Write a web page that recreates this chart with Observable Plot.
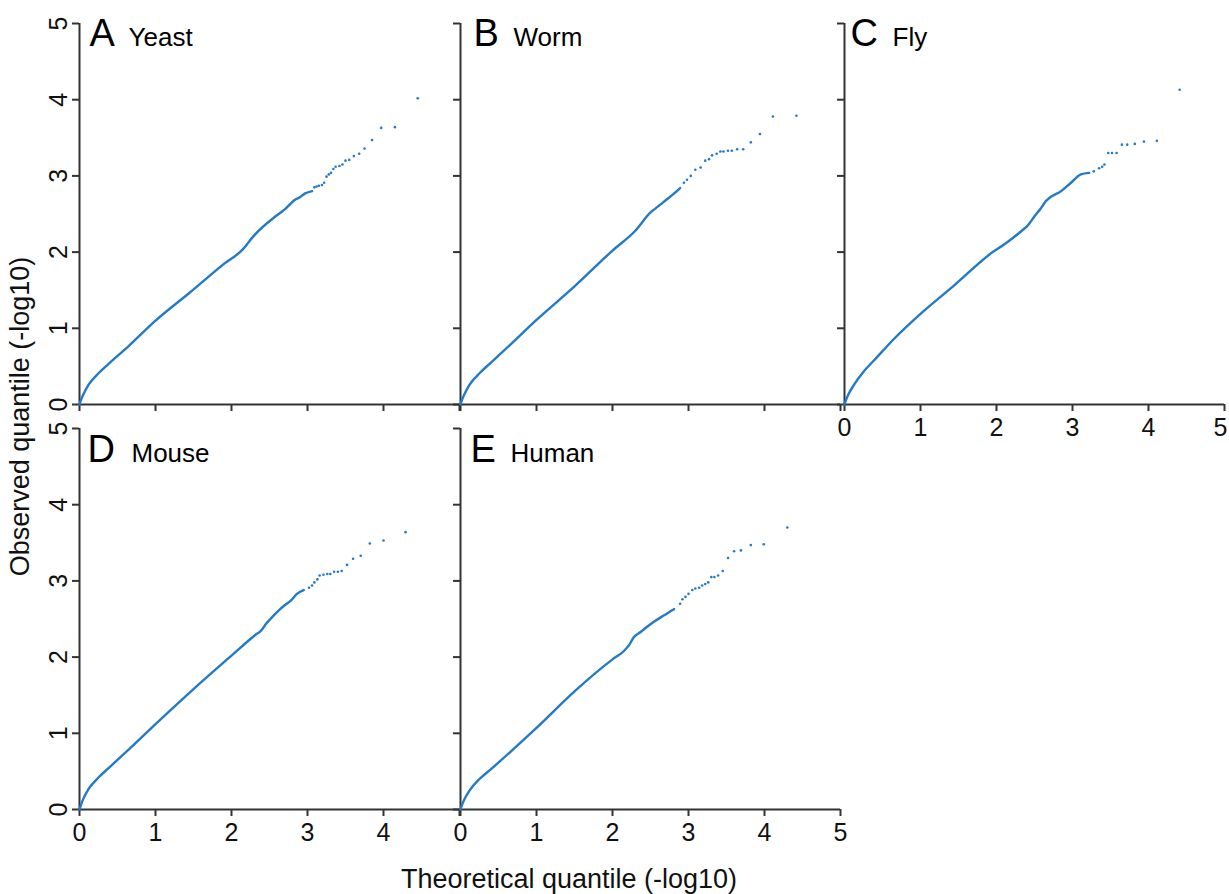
<!DOCTYPE html>
<html><head><meta charset="utf-8">
<script src="https://cdn.jsdelivr.net/npm/d3@7"></script>
<script src="https://cdn.jsdelivr.net/npm/@observablehq/plot@0.6"></script>
<style>
body{margin:0;background:#fff;font-family:"Liberation Sans",Arial,sans-serif;}
#wrap{position:relative;width:1229px;height:894px;overflow:hidden;background:#fff;}
.panel{position:absolute;}
.ttl{position:absolute;font-size:27px;line-height:27px;color:#111;white-space:nowrap;text-align:center;}
</style></head><body><div id="wrap"></div>
<script>
// ---- data ----
const xTicks = [0, 1, 2, 3, 4, 5];
const yTicks = [0, 1, 2, 3, 4, 5];
const panelLetters = ["A", "B", "C", "D", "E"];
const panelNames = ["Yeast", "Worm", "Fly", "Mouse", "Human"];

const yeastLine = [[0,0],[0.02,0.06],[0.05,0.13],[0.12,0.26],[0.25,0.41],[0.39,0.54],[0.65,0.77],[1.0,1.10],[1.44,1.46],[1.88,1.83],[2.18,2.07],[2.24,2.15],[2.29,2.21],[2.58,2.47],[2.66,2.53],[2.70,2.56],[2.84,2.69],[2.90,2.72],[2.97,2.77],[3.06,2.80]];
const yeastTail = [[3.09,2.85],[3.12,2.86],[3.15,2.87],[3.19,2.88],[3.22,2.91],[3.25,2.99],[3.28,3.02],[3.31,3.04],[3.34,3.09],[3.37,3.12],[3.42,3.13],[3.46,3.15],[3.50,3.20],[3.55,3.21],[3.61,3.26],[3.68,3.29],[3.75,3.36],[3.85,3.47],[3.97,3.63],[4.15,3.64],[4.45,4.02]];

const wormLine = [[0,0],[0.02,0.06],[0.05,0.13],[0.12,0.26],[0.25,0.41],[0.39,0.54],[0.65,0.78],[1.0,1.11],[1.5,1.55],[2.0,2.02],[2.3,2.28],[2.5,2.52],[2.6,2.60],[2.7,2.68],[2.8,2.76],[2.89,2.84]];
const wormTail = [[2.94,2.91],[2.98,2.95],[3.03,3.0],[3.09,3.08],[3.16,3.11],[3.22,3.2],[3.27,3.22],[3.31,3.27],[3.37,3.29],[3.42,3.32],[3.46,3.32],[3.52,3.33],[3.57,3.33],[3.64,3.35],[3.72,3.35],[3.82,3.44],[3.94,3.55],[4.11,3.78],[4.42,3.79]];

const flyLine = [[0,0],[0.02,0.06],[0.05,0.13],[0.126,0.26],[0.25,0.43],[0.39,0.58],[0.65,0.86],[1.0,1.19],[1.44,1.56],[1.95,2.0],[2.1,2.1],[2.32,2.27],[2.42,2.36],[2.45,2.40],[2.5,2.47],[2.58,2.57],[2.65,2.67],[2.85,2.80],[2.98,2.91],[3.11,3.02],[3.22,3.04]];
const flyTail = [[3.28,3.06],[3.35,3.10],[3.39,3.12],[3.42,3.15],[3.47,3.30],[3.52,3.30],[3.58,3.30],[3.65,3.41],[3.72,3.41],[3.82,3.42],[3.94,3.45],[4.11,3.46],[4.41,4.13]];

const mouseLine = [[0,0],[0.02,0.06],[0.05,0.14],[0.12,0.27],[0.25,0.42],[0.39,0.55],[0.65,0.79],[1.0,1.12],[1.5,1.58],[2.0,2.02],[2.3,2.28],[2.4,2.36],[2.45,2.43],[2.55,2.54],[2.64,2.63],[2.70,2.68],[2.78,2.74],[2.86,2.83],[2.95,2.88]];
const mouseTail = [[3.02,2.91],[3.06,2.94],[3.09,2.98],[3.13,3.02],[3.16,3.07],[3.21,3.08],[3.26,3.09],[3.30,3.09],[3.35,3.12],[3.40,3.12],[3.45,3.13],[3.52,3.21],[3.60,3.29],[3.70,3.33],[3.82,3.49],[4.0,3.53],[4.29,3.64]];

const humanLine = [[0,0],[0.02,0.06],[0.05,0.13],[0.12,0.25],[0.25,0.40],[0.39,0.52],[0.65,0.75],[1.0,1.07],[1.5,1.55],[2.0,1.97],[2.15,2.08],[2.22,2.16],[2.28,2.26],[2.37,2.33],[2.54,2.46],[2.68,2.55],[2.81,2.63]];
const humanTail = [[2.89,2.70],[2.92,2.76],[2.96,2.79],[3.0,2.83],[3.05,2.88],[3.09,2.90],[3.14,2.91],[3.18,2.94],[3.22,2.96],[3.26,2.98],[3.30,3.05],[3.34,3.05],[3.39,3.07],[3.45,3.13],[3.52,3.30],[3.60,3.39],[3.69,3.40],[3.82,3.47],[3.99,3.48],[4.30,3.70]];

const xTitle = "Theoretical quantile (-log10)";
const yTitle = "Observed quantile (-log10)";

// ---- layout ----
const BLUE = "#237ac6", AX = "#333333";
const FONT = "'Liberation Sans', Arial, sans-serif";
const mL = 50, mT = 30, mR = 12, mB = 50, W = 380, H = 381;

// xLab: which tick values get a label in each panel
const panels = [
  {line: yeastLine, tail: yeastTail, left: 79,    top: 22.5, xLab: [],              yLab: true,  dy: 22.5, lx: 10, nx: 49},
  {line: wormLine,  tail: wormTail,  left: 460,   top: 22.5, xLab: [],              yLab: false, dy: 22.5, lx: 13, nx: 53},
  {line: flyLine,   tail: flyTail,   left: 843.5, top: 22.5, xLab: [0,1,2,3,4],     yLab: false, dy: 22.5, lx: 6,  nx: 48, lastLab: true},
  {line: mouseLine, tail: mouseTail, left: 79,    top: 428,  xLab: [0,1,2,3,4],     yLab: true,  dy: 33,   lx: 8,  nx: 52},
  {line: humanLine, tail: humanTail, left: 460,   top: 428,  xLab: [0,1,2,3,4,5],   yLab: false, dy: 33,   lx: 10, nx: 50}
];

const wrap = document.getElementById("wrap");

panels.forEach((p, i) => {
  const marks = [
    Plot.axisX({ticks: xTicks, tickSize: 7, tickPadding: 7, strokeWidth: 2, stroke: AX, fill: "#111",
      fontSize: 25, label: null, tickFormat: d => p.xLab.includes(d) ? String(d) : ""}),
    Plot.axisY({ticks: yTicks, tickSize: 7, strokeWidth: 2, stroke: AX, label: null, tickFormat: () => ""}),
    Plot.ruleY([0], {stroke: AX, strokeWidth: 2}),
    Plot.ruleX([0], {stroke: AX, strokeWidth: 2}),
    Plot.line(p.line, {x: d => d[0], y: d => d[1], stroke: BLUE, strokeWidth: 2.4, curve: "monotone-x"}),
    Plot.dot(p.tail, {x: d => d[0], y: d => d[1], r: 1.3, fill: BLUE}),
    Plot.text([panelLetters[i]], {frameAnchor: "top-left", text: d => d, dx: p.lx, dy: p.dy,
      lineAnchor: "bottom", textAnchor: "start", fontSize: 38, fill: "#000"}),
    Plot.text([panelNames[i]], {frameAnchor: "top-left", text: d => d, dx: p.nx, dy: p.dy,
      lineAnchor: "bottom", textAnchor: "start", fontSize: 26, fill: "#000"})
  ];
  if (p.lastLab) {
    marks.push(Plot.text([xTicks[xTicks.length - 1]], {x: d => d, y: 0, text: d => String(d),
      lineAnchor: "top", dy: 14, dx: -4, fontSize: 25, fill: "#111"}));
  }
  if (p.yLab) {
    marks.push(Plot.text(yTicks, {x: 0, y: d => d, text: d => String(d), rotate: -90,
      textAnchor: "middle", dx: -21, fontSize: 25, fill: "#111"}));
  }
  const chart = Plot.plot({
    width: mL + W + mR, height: mT + H + mB,
    marginLeft: mL, marginTop: mT, marginRight: mR, marginBottom: mB,
    x: {domain: [0, 5], axis: null},
    y: {domain: [0, 5], axis: null},
    style: {background: "transparent", overflow: "visible", maxWidth: "none", fontFamily: FONT},
    marks
  });
  chart.classList.add("panel");
  chart.style.position = "absolute";
  chart.style.left = (p.left - mL) + "px";
  chart.style.top = (p.top - mT) + "px";
  wrap.appendChild(chart);
});

const xt = document.createElement("div");
xt.className = "ttl";
xt.textContent = xTitle;
xt.style.left = (569 - 300) + "px";
xt.style.width = "600px";
xt.style.top = "866px";
wrap.appendChild(xt);

const yt = document.createElement("div");
yt.className = "ttl";
yt.textContent = yTitle;
yt.style.width = "600px";
yt.style.height = "27px";
yt.style.left = (20 - 300) + "px";
yt.style.top = (416.5 - 13.5) + "px";
yt.style.transform = "rotate(-90deg)";
wrap.appendChild(yt);
</script>
</body></html>
